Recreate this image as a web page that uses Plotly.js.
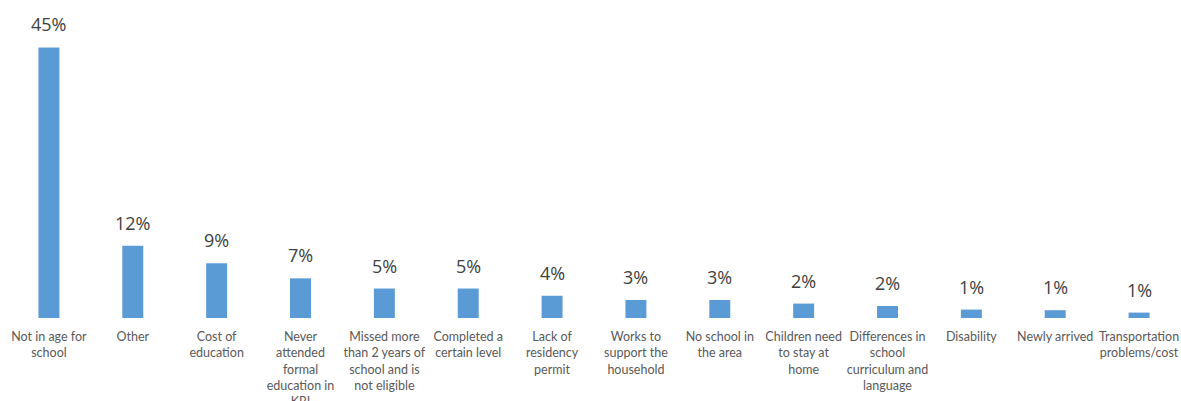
<!DOCTYPE html>
<html>
<head>
<meta charset="utf-8">
<script src="https://cdn.plot.ly/plotly-3.0.1.min.js"></script>
<style>html,body{margin:0;padding:0;background:#fff;}#chart{width:1181px;height:401px;}</style>
</head>
<body>
<div id="chart"></div>
<script>
const categories = [
  "Not in age for<br>school",
  "Other",
  "Cost of<br>education",
  "Never<br>attended<br>formal<br>education in<br>KRI",
  "Missed more<br>than 2 years of<br>school and is<br>not eligible",
  "Completed a<br>certain level",
  "Lack of<br>residency<br>permit",
  "Works to<br>support the<br>household",
  "No school in<br>the area",
  "Children need<br>to stay at<br>home",
  "Differences in<br>school<br>curriculum and<br>language",
  "Disability",
  "Newly arrived",
  "Transportation<br>problems/cost"
];
const values = [45.0, 12.0, 9.1, 6.6, 4.9, 4.9, 3.7, 3.0, 3.0, 2.4, 2.0, 1.4, 1.3, 0.9];
const valueLabels = ["45%", "12%", "9%", "7%", "5%", "5%", "4%", "3%", "3%", "2%", "2%", "1%", "1%", "1%"];

const trace = {
  type: "bar",
  x: categories,
  y: values,
  marker: {color: "#5B9BD5"},
  hoverinfo: "skip"
};

const annotations = categories.map((c, i) => ({
  x: c, y: values[i], xref: "x", yref: "y",
  text: valueLabels[i], showarrow: false,
  yanchor: "bottom", yshift: 9,
  font: {family: "Open Sans, sans-serif", size: 18, color: "#404040"}
}));

const layout = {
  width: 1181, height: 401,
  margin: {l: 7, r: 0, t: 0, b: 83, autoexpand: false},
  paper_bgcolor: "#ffffff", plot_bgcolor: "#ffffff",
  bargap: 0.75,
  showlegend: false,
  xaxis: {
    type: "category", showgrid: false, zeroline: false, showline: false,
    ticks: "outside", ticklen: 7, tickcolor: "rgba(0,0,0,0)", automargin: false,
    tickfont: {family: "Lato, sans-serif", size: 12.5, color: "#595959"}
  },
  yaxis: {
    range: [0, 52.9], visible: false, showgrid: false, zeroline: false, fixedrange: true
  },
  annotations: annotations
};

Plotly.newPlot("chart", [trace], layout, {displayModeBar: false, staticPlot: true});
</script>
</body>
</html>
